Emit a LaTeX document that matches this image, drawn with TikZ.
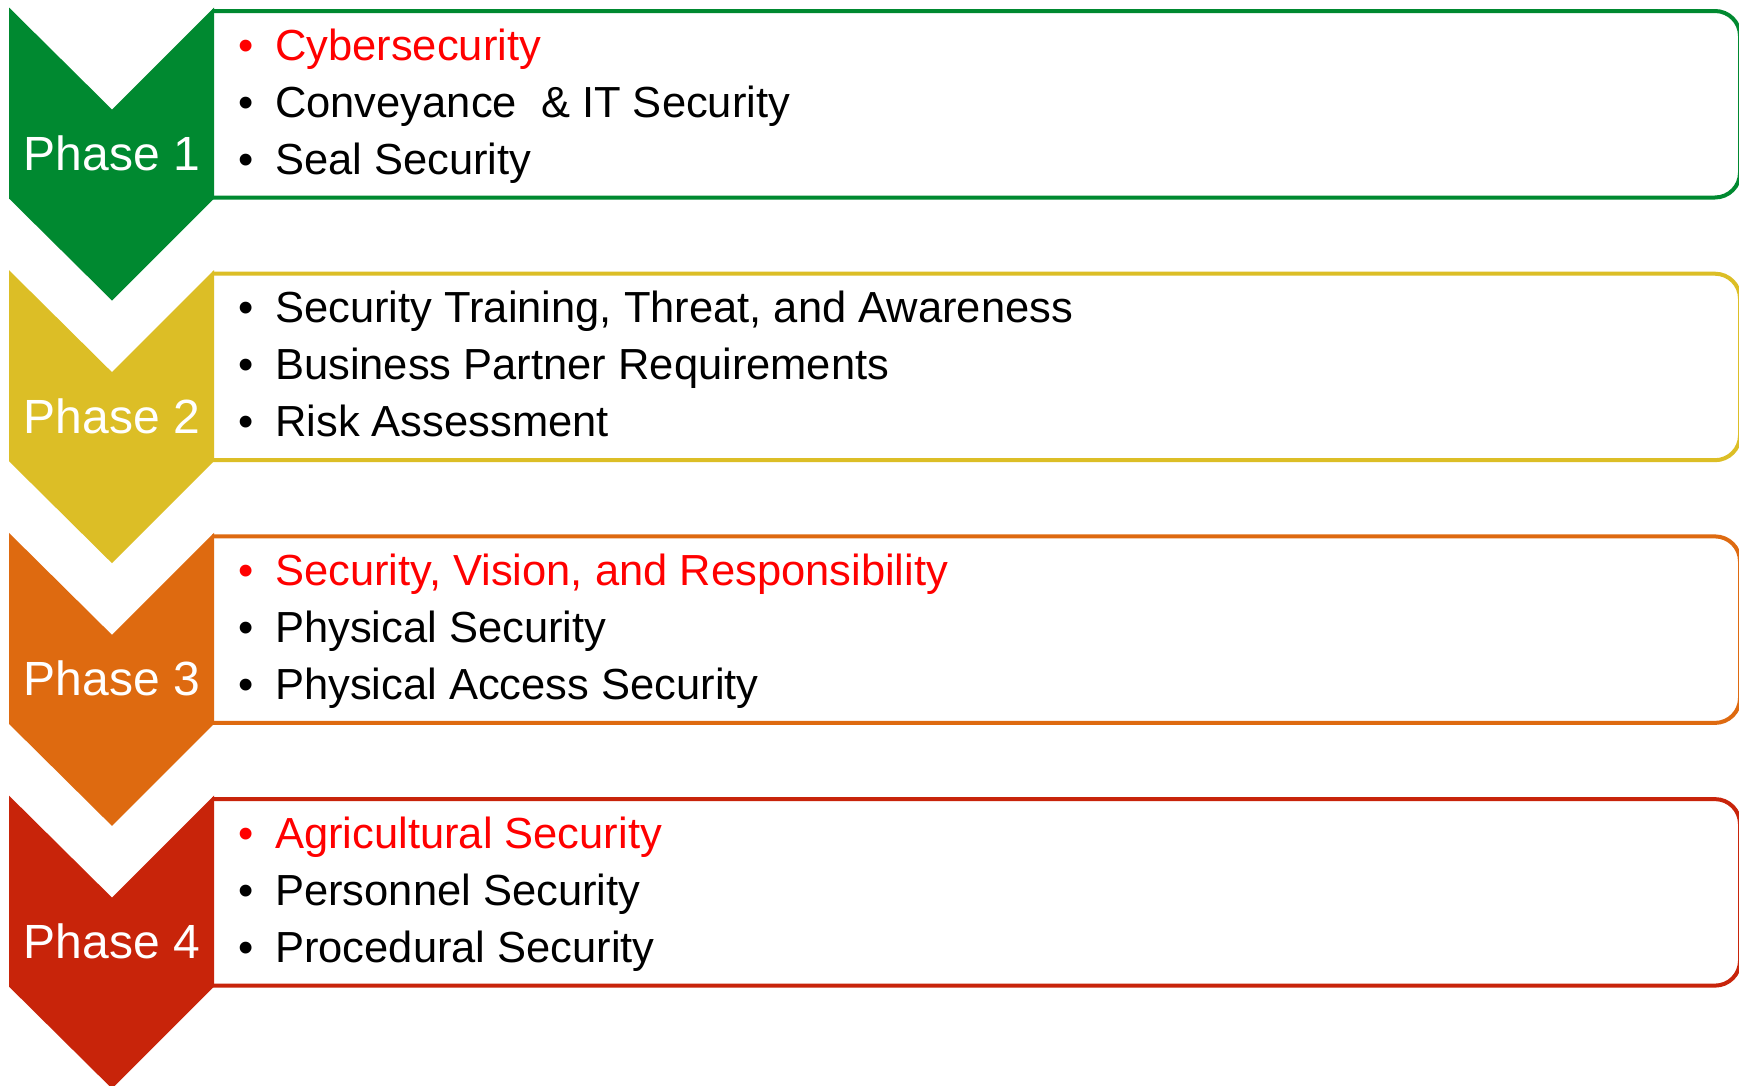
\documentclass[tikz,border=0pt]{standalone}
\usepackage{fontspec}
\setmainfont{Liberation Sans}
\definecolor{cgreen}{RGB}{0,137,48}
\definecolor{cyellow}{RGB}{220,190,38}
\definecolor{corange}{RGB}{222,106,16}
\definecolor{cred}{RGB}{200,36,10}
\definecolor{hired}{RGB}{255,0,0}
\tikzset{
  chev/.style={fill=#1, draw=none},
  itembox/.style={draw=#1, line width=4pt, rounded corners=25pt, fill=white},
  phaselabel/.style={text=white, inner sep=0pt, anchor=base, font=\fontsize{48}{48}\selectfont},
  itemtext/.style={inner sep=0pt, anchor=base west, font=\fontsize{43.5}{43.5}\selectfont},
  bul/.style={inner sep=0pt, anchor=base, font=\fontsize{43.5}{43.5}\selectfont},
}
\newcommand{\phaseblock}[9]{%
  % #1 top y, #2 colour, #3 label, #4 name, #5..#7 texts, #8 colour line1, #9 colour lines
  \draw[itembox=#2] (212,#1+3.5) -- (1740,#1+3.5) -- (1740,#1+190) -- (212,#1+190);
  \fill[chev=#2] (9,#1) -- (112,#1+102) -- (214,#1) -- (214,#1+191) -- (112,#1+293) -- (9,#1+191) -- cycle;
  \node[phaselabel] (#4lab) at (112,#1+163) {#3};
  \node[bul, text=#8] (#4b1) at (246,#1+52.5) {•};
  \node[itemtext, text=#8] (#4t1) at (275,#1+52.5) {#5};
  \node[bul, text=#9] (#4b2) at (246,#1+109.5) {•};
  \node[itemtext, text=#9] (#4t2) at (275,#1+109.5) {#6};
  \node[bul] (#4b3) at (246,#1+166.5) {•};
  \node[itemtext] (#4t3) at (275,#1+166.5) {#7};
}
\begin{document}
\begin{tikzpicture}[x=1pt,y=-1pt]
\useasboundingbox (0,0) rectangle (1739,1085);
\fill[white] (0,0) rectangle (1739,1085);
\phaseblock{7.5}{cgreen}{Phase 1}{pa}{Cybersecurity}{Conveyance~~\& IT Security}{Seal Security}{hired}{black}
\phaseblock{270.2}{cyellow}{Phase 2}{pb}{Security Training, Threat, and Awareness}{Business Partner Requirements}{Risk Assessment}{black}{black}
\phaseblock{532.9}{corange}{Phase 3}{pc}{Security, Vision, and Responsibility}{Physical Security}{Physical Access Security}{hired}{black}
\phaseblock{795.6}{cred}{Phase 4}{pd}{Agricultural Security}{Personnel Security}{Procedural Security}{hired}{black}
\end{tikzpicture}
\end{document}
